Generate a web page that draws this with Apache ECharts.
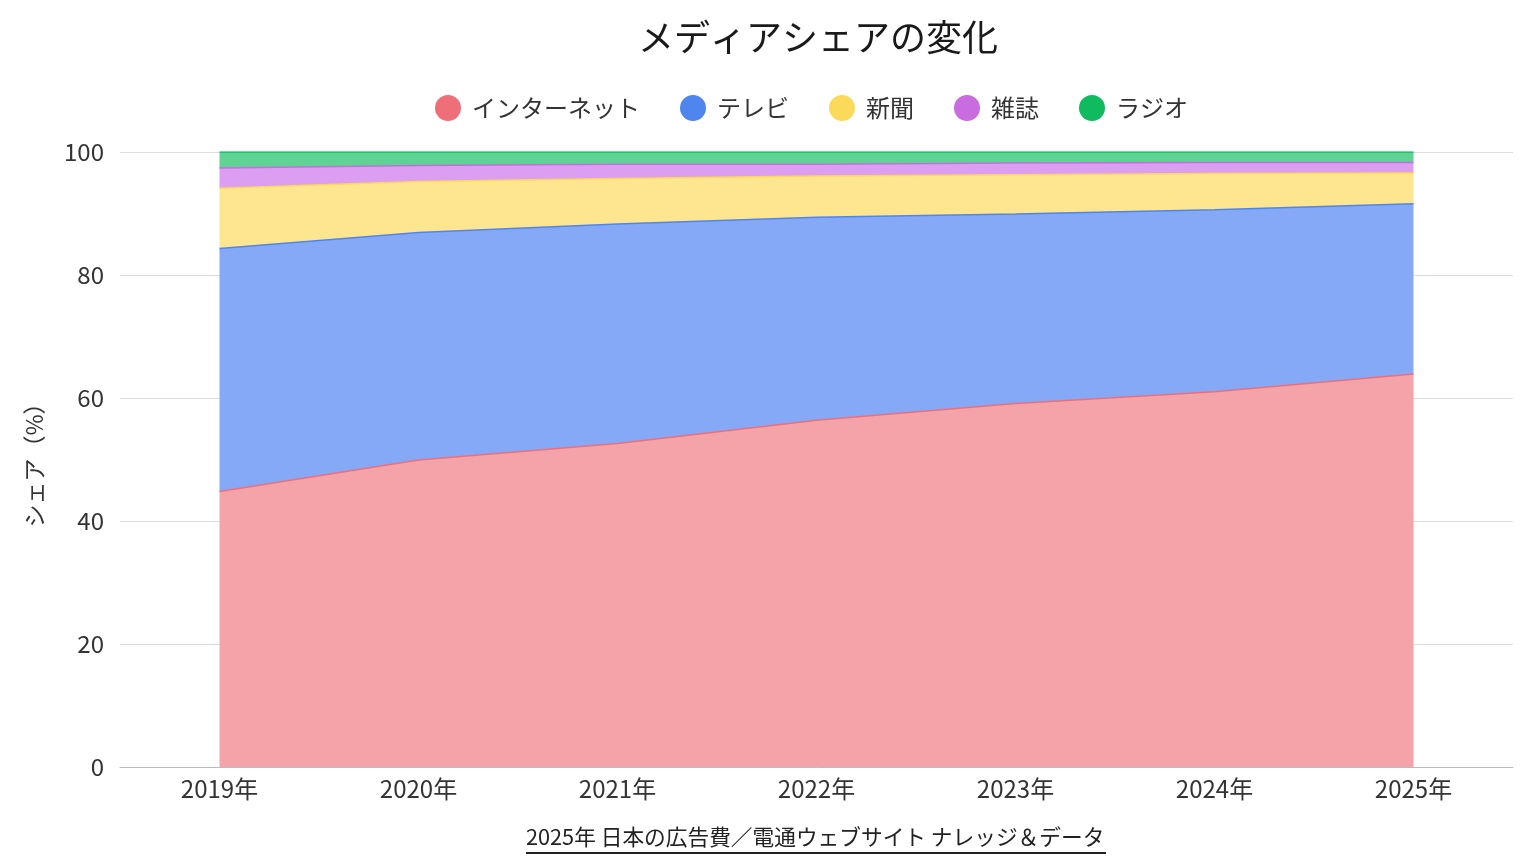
<!DOCTYPE html>
<html>
<head>
<meta charset="utf-8">
<title>メディアシェアの変化</title>
<script src="https://cdn.jsdelivr.net/npm/echarts@6/dist/echarts.min.js"></script>
<style>
  html, body { margin: 0; padding: 0; background: #fff; }
  #chart { width: 1536px; height: 864px; }
</style>
</head>
<body>
<div id="chart"></div>
<script type="text/javascript">
// 年
var years = ['2019年', '2020年', '2021年', '2022年', '2023年', '2024年', '2025年'];
// 媒体別シェア（%）
var internet = [44.8, 49.9, 52.6, 56.4, 59.1, 61.0, 63.9];
var tv       = [39.5, 37.0, 35.7, 33.0, 30.8, 29.6, 27.7];
var paper    = [9.8, 8.3, 7.4, 6.7, 6.4, 5.9, 5.0];
var magazine = [3.3, 2.6, 2.3, 1.9, 1.9, 1.8, 1.7];
var radio    = [2.6, 2.2, 2.0, 2.0, 1.8, 1.7, 1.7];

var names  = ['インターネット', 'テレビ', '新聞', '雑誌', 'ラジオ'];
var lines  = ['#ee6f78', '#4f85ef', '#fbd95b', '#c86ce0', '#10bb60'];
var fills  = ['#f4a3a9', '#86a9f7', '#fde68f', '#dc9ef0', '#5ed394'];
var values = [internet, tv, paper, magazine, radio];

var font = '"Noto Sans CJK JP", "Noto Sans", sans-serif';

/* 積み上げ面グラフのシリーズを作る */
var series = [];
for (var i = 0; i < names.length; i++) {
    series.push({
        name: names[i],
        type: 'line',
        stack: 'share',
        symbol: 'none',
        smooth: false,
        data: values[i],
        itemStyle: { color: lines[i] },
        lineStyle: { color: lines[i], width: 1.5 },
        areaStyle: { color: fills[i], opacity: 1 }
    });
}

var chart = echarts.init(document.getElementById('chart'));
var option = {
    backgroundColor: '#fff',
    textStyle: { fontFamily: font },
    title: {
        text: 'メディアシェアの変化',
        left: 633,
        top: 14,
        textStyle: { fontFamily: font, fontSize: 36, fontWeight: 'normal', color: '#1a1a1a' }
    },
    legend: {
        data: names,
        top: 90,
        left: 430,
        icon: 'circle',
        itemWidth: 26,
        itemHeight: 26,
        itemGap: 40,
        textStyle: { fontFamily: font, fontSize: 24, color: '#333', padding: [0, 0, 0, 6] }
    },
    grid: { left: 120, right: 23, top: 152, bottom: 97 },
    xAxis: {
        type: 'category',
        data: years,
        axisLine: { lineStyle: { color: '#bbb' } },
        axisTick: { show: false },
        axisLabel: { fontFamily: font, fontSize: 24, color: '#333', margin: 10 }
    },
    yAxis: {
        type: 'value',
        min: 0,
        max: 100,
        interval: 20,
        name: 'シェア（%）',
        nameLocation: 'middle',
        nameGap: 74,
        nameRotate: 90,
        nameTextStyle: { fontFamily: font, fontSize: 23, color: '#333' },
        axisLine: { show: false },
        axisTick: { show: false },
        splitLine: { lineStyle: { color: '#dedede' } },
        axisLabel: { fontFamily: font, fontSize: 24, color: '#333', margin: 16 }
    },
    graphic: [{
        type: 'group',
        left: 526,
        top: 826,
        children: [{
            type: 'text',
            left: 0,
            top: 0,
            style: {
                text: '2025年 日本の広告費／電通ウェブサイト ナレッジ＆データ',
                font: '21.7px ' + font,
                fill: '#222'
            }
        }, {
            type: 'rect',
            left: 0,
            top: 26,
            shape: { width: 580, height: 2 },
            style: { fill: '#222' }
        }]
    }],
    series: series
};
chart.setOption(option);
</script>
</body>
</html>
